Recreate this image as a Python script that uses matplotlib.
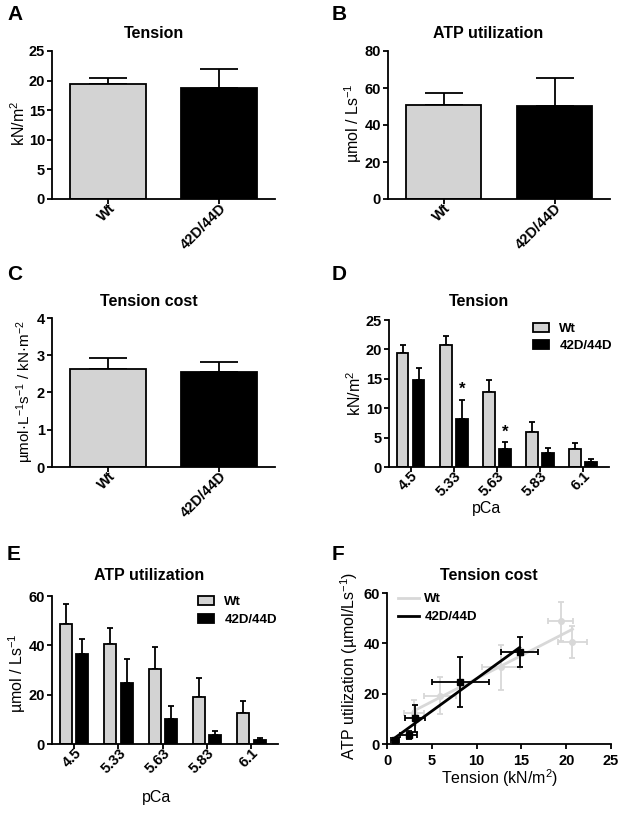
import numpy as np
import matplotlib
matplotlib.use("Agg")
import matplotlib.pyplot as plt
from matplotlib.lines import Line2D
from matplotlib.patches import Patch
from matplotlib.transforms import ScaledTranslation

plt.rcParams['font.family'] = ['Liberation Sans', 'DejaVu Sans']
plt.rcParams['mathtext.fontset'] = 'custom'
plt.rcParams['mathtext.rm'] = 'Liberation Sans'
plt.rcParams['mathtext.it'] = 'Liberation Sans:italic'
plt.rcParams['mathtext.bf'] = 'Liberation Sans:bold'

# ---------------- data ----------------
groups = ['Wt', '42D/44D']
tension_mean = [19.5, 18.7]
tension_sem = [1.0, 3.3]
atp_mean = [51.0, 50.3]
atp_sem = [6.3, 15.2]
cost_mean = [2.62, 2.55]
cost_sem = [0.31, 0.26]

pCa = ['4.5', '5.33', '5.63', '5.83', '6.1']
wt_tension = [19.4, 20.7, 12.7, 5.9, 3.0]
wt_tension_sem = [1.4, 1.6, 2.1, 1.8, 1.1]
mut_tension = [14.8, 8.2, 3.1, 2.4, 0.9]
mut_tension_sem = [2.1, 3.2, 1.1, 0.9, 0.4]
wt_atp = [48.8, 40.6, 30.4, 19.2, 12.4]
wt_atp_sem = [7.8, 6.3, 9.1, 7.4, 4.9]
mut_atp = [36.6, 24.6, 10.2, 3.7, 1.6]
mut_atp_sem = [6.1, 9.8, 5.4, 1.6, 0.7]
signif = [False, True, True, False, False]

GRAY = '#d3d3d3'
LGRAY = '#d8d8d8'
W, H = 624, 813
LW = 1.3
TICKFS = 10.5
TITLEFS = 11.5
LABFS = 11.5

fig = plt.figure(figsize=(W / 100, H / 100), dpi=100)


def axrect(l, r, top, bottom):
    return [l / W, 1 - bottom / H, (r - l) / W, (bottom - top) / H]


def style(ax):
    for s in ['top', 'right']:
        ax.spines[s].set_visible(False)
    for s in ['left', 'bottom']:
        ax.spines[s].set_linewidth(LW)
    ax.tick_params(direction='out', length=3.5, width=LW, labelsize=TICKFS)
    ax.tick_params(axis='y', pad=1.5)
    for lab in ax.get_yticklabels():
        lab.set_fontweight('bold')


def ftext(x, y, s, **kw):
    fig.text(x / W, 1 - y / H, s, ha='center', va='center', **kw)


def rot_xticks(ax, labels):
    ax.set_xticklabels(labels, rotation=45, ha='right', va='center',
                       rotation_mode='anchor', fontweight='bold')
    ax.tick_params(axis='x', pad=3)
    off = ScaledTranslation(5 / 100, 2 / 100, fig.dpi_scale_trans)
    for lab in ax.xaxis.get_majorticklabels():
        lab.set_transform(lab.get_transform() + off)


def two_bar(rect, means, sems, ylim, yticks, cap):
    ax = fig.add_axes(axrect(*rect))
    x = np.arange(len(groups))
    ax.bar(x, means, 0.68, color=[GRAY, 'black'], edgecolor='black', linewidth=LW, zorder=2)
    ax.errorbar(x, means, yerr=[np.zeros(len(x)), sems], fmt='none', ecolor='black',
                elinewidth=LW, capsize=cap, capthick=LW, zorder=1)
    ax.set_xlim(-0.5, 1.5)
    ax.set_ylim(*ylim)
    ax.set_yticks(yticks)
    ax.set_xticks(x)
    style(ax)
    rot_xticks(ax, groups)
    return ax


def group_bar(rect, wt, wts, mu, mus, ylim, yticks, stars=None):
    ax = fig.add_axes(axrect(*rect))
    x = np.arange(len(pCa))
    off = 0.185
    w = 0.27
    ax.bar(x - off, wt, w, color=GRAY, edgecolor='black', linewidth=LW, zorder=2, label='Wt')
    ax.bar(x + off, mu, w, color='black', edgecolor='black', linewidth=LW, zorder=2, label='42D/44D')
    ax.errorbar(x - off, wt, yerr=[np.zeros(len(x)), wts], fmt='none', ecolor='black',
                elinewidth=LW, capsize=2.5, capthick=LW, zorder=1)
    ax.errorbar(x + off, mu, yerr=[np.zeros(len(x)), mus], fmt='none', ecolor='black',
                elinewidth=LW, capsize=2.5, capthick=LW, zorder=1)
    if stars is not None:
        for xi, m, s, sg in zip(x, mu, mus, stars):
            if sg:
                ax.annotate('*', (xi + off, m + s), xytext=(0, 2), textcoords='offset points',
                            ha='center', va='bottom', fontsize=12, fontweight='bold')
    ax.set_xlim(-0.5, 4.6)
    ax.set_ylim(*ylim)
    ax.set_yticks(yticks)
    ax.set_xticks(x)
    style(ax)
    rot_xticks(ax, pCa)
    return ax


def bar_legend(ax, x, y, spacing):
    ax.legend(handles=[Patch(facecolor=GRAY, edgecolor='black', linewidth=LW, label='Wt'),
                       Patch(facecolor='black', edgecolor='black', linewidth=LW, label='42D/44D')],
              loc='upper left', bbox_to_anchor=(x / W, 1 - y / H), bbox_transform=fig.transFigure,
              frameon=False, borderpad=0, borderaxespad=0, handlelength=1.2, handleheight=0.7,
              handletextpad=0.8, labelspacing=spacing, prop={'weight': 'bold', 'size': 9.5})


# A
axA = two_bar((52, 275, 51, 199), tension_mean, tension_sem, (0, 25), range(0, 26, 5), 14)
ftext(153.5, 33, 'Tension', fontsize=TITLEFS, fontweight='bold')
ftext(19, 123, r'kN/m$^{2}$', fontsize=LABFS, rotation=90)
# B
axB = two_bar((388, 610, 51, 199), atp_mean, atp_sem, (0, 80), range(0, 81, 20), 14)
ftext(488.5, 33, 'ATP utilization', fontsize=TITLEFS, fontweight='bold')
ftext(353, 123, r'µmol / Ls$^{-1}$', fontsize=LABFS, rotation=90)
# C
axC = two_bar((52, 275, 318, 467), cost_mean, cost_sem, (0, 4), range(0, 5), 14)
ftext(148.5, 301.7, 'Tension cost', fontsize=TITLEFS, fontweight='bold')
ftext(25, 392, r'µmol·L$^{-1}$s$^{-1}$ / kN·m$^{-2}$', fontsize=LABFS - 0.5, rotation=90)
# D
axD = group_bar((389, 609, 320, 467), wt_tension, wt_tension_sem, mut_tension, mut_tension_sem,
                (0, 25), range(0, 26, 5), stars=signif)
ftext(478.7, 301.7, 'Tension', fontsize=TITLEFS, fontweight='bold')
ftext(355, 393, r'kN/m$^{2}$', fontsize=LABFS, rotation=90)
ftext(487, 508, 'pCa', fontsize=LABFS)
bar_legend(axD, 533, 323, 0.35)
# E
axE = group_bar((52, 278, 596, 744), wt_atp, wt_atp_sem, mut_atp, mut_atp_sem,
                (0, 60), range(0, 61, 20))
ftext(149, 575, 'ATP utilization', fontsize=TITLEFS, fontweight='bold')
ftext(17, 673, r'µmol / Ls$^{-1}$', fontsize=LABFS, rotation=90)
ftext(157, 797, 'pCa', fontsize=LABFS)
bar_legend(axE, 198, 596, 0.45)
# F
axF = fig.add_axes(axrect(387, 611, 593, 744))
for xs, xe, ys, ye, col, mk, ms in [(wt_tension, wt_tension_sem, wt_atp, wt_atp_sem, LGRAY, 'o', 4),
                                     (mut_tension, mut_tension_sem, mut_atp, mut_atp_sem, 'black', 's', 4.5)]:
    z = 2 if col == 'black' else 1
    axF.errorbar(xs, ys, xerr=xe, yerr=ye, fmt=mk, color=col, ms=ms, ecolor=col,
                 elinewidth=LW, capsize=2.5, capthick=LW, zorder=z)
    k, b = np.polyfit(xs, ys, 1)
    xx = np.array([min(xs), max(xs)])
    axF.plot(xx, k * xx + b, color=col, lw=2.0, zorder=z)
axF.set_xlim(0, 25)
axF.set_ylim(0, 60)
axF.set_xticks(range(0, 26, 5))
axF.set_yticks(range(0, 61, 20))
style(axF)
for lab in axF.get_xticklabels():
    lab.set_fontweight('bold')
ftext(488.5, 575, 'Tension cost', fontsize=TITLEFS, fontweight='bold')
ftext(349, 666, r'ATP utilization (µmol/Ls$^{-1}$)', fontsize=LABFS, rotation=90)
ftext(500, 778, r'Tension (kN/m$^{2}$)', fontsize=LABFS)
axF.legend(handles=[Line2D([], [], color=LGRAY, lw=2.0, label='Wt'),
                    Line2D([], [], color='black', lw=2.0, label='42D/44D')],
           loc='upper left', bbox_to_anchor=(398 / W, 1 - 593 / H), bbox_transform=fig.transFigure,
           frameon=False, borderpad=0, borderaxespad=0, handlelength=1.6,
           handletextpad=0.4, labelspacing=0.45, prop={'weight': 'bold', 'size': 9.5})

# panel letters
for (x, y, s) in [(7, 14, 'A'), (332, 14, 'B'), (7, 274, 'C'), (332, 274, 'D'), (7, 554, 'E'), (332, 554, 'F')]:
    fig.text(x / W, 1 - y / H, s, ha='left', va='center', fontsize=15, fontweight='bold')

fig.savefig('out.png', dpi=100)
